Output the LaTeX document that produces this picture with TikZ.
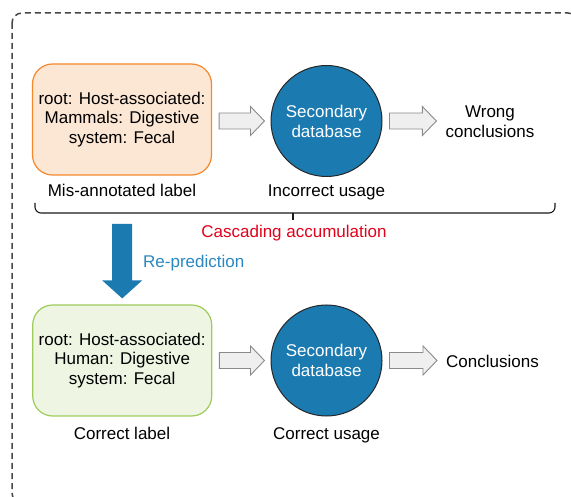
\documentclass[tikz,border=0pt]{standalone}
\usepackage{fontspec}
\setmainfont{Liberation Sans}
\usetikzlibrary{calc}
\definecolor{orfill}{HTML}{FCE6D4}
\definecolor{ordraw}{HTML}{F5882C}
\definecolor{grfill}{HTML}{EEF6E3}
\definecolor{grdraw}{HTML}{9DCB5C}
\definecolor{dbblue}{HTML}{1B7BB1}
\definecolor{reblue}{HTML}{2A88C0}
\definecolor{cascred}{HTML}{E2001A}
\definecolor{arrfill}{HTML}{EFEFEF}
\definecolor{arrdraw}{HTML}{8A8A8A}
\definecolor{framegray}{HTML}{474747}
\tikzset{
  txt/.style={font=\fontsize{17}{19.8}\selectfont, inner sep=0pt, text=black},
  labelbox/.style={txt, rounded corners=20pt, minimum width=179pt, minimum height=111pt,
    line width=1.2pt, align=center},
  dbcirc/.style={txt, circle, fill=dbblue, draw=black!85, line width=1pt,
    minimum size=111pt, text=white, align=center, font=\fontsize{17}{20}\selectfont},
  grayarr/.style={fill=arrfill, draw=arrdraw, line width=0.9pt},
  bracestyle/.style={draw=black!90, line width=1.1pt},
  framestyle/.style={draw=framegray, line width=1.5pt, dash pattern=on 6pt off 4pt, rounded corners=10pt}
}
\newcommand\blkarrow[2]{%
  \draw[grayarr] ($(#1)+(0,-8)$) -- ($(#2)+(-14,-8)$) -- ($(#2)+(-14,-14.5)$) -- (#2)
    -- ($(#2)+(-14,14.5)$) -- ($(#2)+(-14,8)$) -- ($(#1)+(0,8)$) -- cycle;}
\begin{document}
\begin{tikzpicture}[x=1pt,y=-1pt]
\useasboundingbox (0,0) rectangle (571,497);
\clip (0,0) rectangle (571,497);
% dashed frame
\draw[framestyle] (12,13) rectangle (578,503);

% top row
\node[labelbox, fill=orfill, draw=ordraw] (box1) at (122,119.5)
  {root: Host-associated:\\Mammals: Digestive\\system: Fecal};
\node[dbcirc] (circ1) at (326.5,121) {Secondary\\database};
\node[txt, align=center] (wrong) at (490,121.7) {Wrong\\conclusions};
\node[txt, anchor=base] (mislab) at (122,197) {Mis-annotated label};
\node[txt, anchor=base] (incuse) at (326.5,197) {Incorrect usage};

\coordinate (a1s) at ($(box1.east |- circ1.center)+(7,0)$);
\coordinate (a1e) at ($(circ1.west)+(-6,0)$);
\coordinate (a2s) at ($(circ1.east)+(7,0)$);
\coordinate (a2e) at ($(wrong.west |- circ1.center)+(-9,0)$);
\blkarrow{a1s}{a1e}
\blkarrow{a2s}{a2e}

% brace
\coordinate (brL) at (35,203);
\coordinate (brR) at (555,203);
\coordinate (brM) at (293,213);
\draw[bracestyle, rounded corners=6pt] (brL) -- (35,213) -- (555,213) -- (brR);
\draw[bracestyle] (brM) -- ++(0,7);
\node[txt, text=cascred, anchor=base] (casc) at (294,237.7) {Cascading accumulation};

% bottom row
\node[labelbox, fill=grfill, draw=grdraw] (box2) at (122.2,360.5)
  {root: Host-associated:\\Human: Digestive\\system: Fecal};
\node[dbcirc] (circ2) at (326.5,360.5) {Secondary\\database};
\node[txt, anchor=base west] (concl) at (446,367.3) {Conclusions};
\node[txt, anchor=base] (corlab) at (122,439) {Correct label};
\node[txt, anchor=base] (coruse) at (326.5,439.5) {Correct usage};

\coordinate (b1s) at ($(box2.east |- circ2.center)+(7,0)$);
\coordinate (b1e) at ($(circ2.west)+(-6,0)$);
\coordinate (b2s) at ($(circ2.east)+(7,0)$);
\coordinate (b2e) at ($(concl.west |- circ2.center)+(-9,0)$);
\blkarrow{b1s}{b1e}
\blkarrow{b2s}{b2e}

% re-prediction arrow
\coordinate (rp) at (122,224);
\coordinate (rpe) at ($(box2.north)+(0,-6)$);
\fill[dbblue] ($(rp)+(-10,0)$) -- ($(rpe)+(-10,-18)$) -- ($(rpe)+(-20,-18)$) -- (rpe)
  -- ($(rpe)+(20,-18)$) -- ($(rpe)+(10,-18)$) -- ($(rp)+(10,0)$) -- cycle;
\node[txt, text=reblue, anchor=base west] (repred) at (143,267.7) {Re-prediction};
\end{tikzpicture}
\end{document}
